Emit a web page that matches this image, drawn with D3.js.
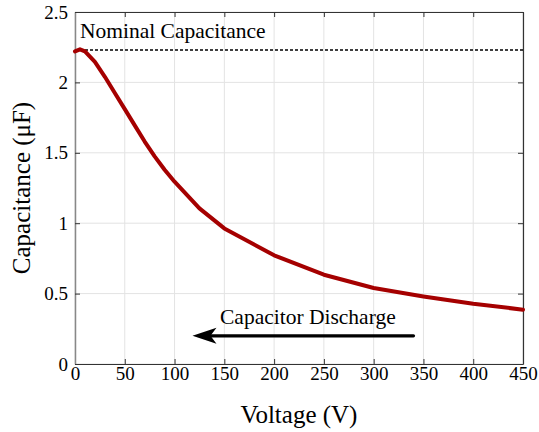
<!DOCTYPE html>
<html><head><meta charset="utf-8">
<script src="https://cdn.jsdelivr.net/npm/d3@7"></script>
<style>body{margin:0;background:#fff}svg{display:block}</style>
</head><body>
<svg id="c" width="539" height="432"></svg>
<script>
const voltage = [0, 5, 10, 20, 30, 40, 50, 60, 70, 80, 90, 100, 125, 150, 200, 250, 300, 350, 400, 450];
const capacitance = [2.22, 2.235, 2.22, 2.145, 2.04, 1.925, 1.81, 1.695, 1.58, 1.475, 1.38, 1.295, 1.105, 0.963, 0.772, 0.634, 0.54, 0.48, 0.428, 0.386];
const xTicks = [0, 50, 100, 150, 200, 250, 300, 350, 400, 450];
const yTicks = [0, 0.5, 1, 1.5, 2, 2.5];
const yTickLabels = ["0", "0.5", "1", "1.5", "2", "2.5"];
const nominal = 2.23;
const arrowFromTo = [340, 118, 0.2];

const svg = d3.select("#c");
const font = "'Liberation Serif','Times New Roman',serif";
const L = 75, R = 523, T = 12, B = 364;
const x = d3.scaleLinear().domain([0, 450]).range([L, R]);
const y = d3.scaleLinear().domain([0, 2.5]).range([B, T]);

// grid
svg.append("g").selectAll("line").data(xTicks).join("line")
  .attr("x1", d => x(d)).attr("x2", d => x(d)).attr("y1", T).attr("y2", B)
  .attr("stroke", "#e3e3e3").attr("stroke-width", 1);
svg.append("g").selectAll("line").data(yTicks).join("line")
  .attr("y1", d => y(d)).attr("y2", d => y(d)).attr("x1", L).attr("x2", R)
  .attr("stroke", "#e3e3e3").attr("stroke-width", 1);

// axes
const xAxB = svg.append("g").attr("transform", `translate(0,${B})`)
  .call(d3.axisBottom(x).tickValues(xTicks).tickSizeInner(-5).tickSizeOuter(0).tickPadding(2));
const xAxT = svg.append("g").attr("transform", `translate(0,${T})`)
  .call(d3.axisTop(x).tickValues(xTicks).tickSizeInner(-5).tickSizeOuter(0).tickFormat(""));
const yAxL = svg.append("g").attr("transform", `translate(${L},0)`)
  .call(d3.axisLeft(y).tickValues(yTicks).tickSizeInner(-5).tickSizeOuter(0).tickPadding(7)
    .tickFormat((d, i) => yTickLabels[i]));
const yAxR = svg.append("g").attr("transform", `translate(${R},0)`)
  .call(d3.axisRight(y).tickValues(yTicks).tickSizeInner(-5).tickSizeOuter(0).tickFormat(""));
[xAxB, xAxT, yAxL, yAxR].forEach(g => {
  g.attr("font-family", font).attr("font-size", 19);
  g.selectAll(".domain").attr("stroke", "#333").attr("stroke-width", 1.2);
  g.selectAll(".tick line").attr("stroke", "#333");
  g.selectAll("text").attr("font-family", font).attr("font-size", 19).attr("fill", "#000");
});
yAxL.select(".domain").attr("stroke", "#888").attr("stroke-width", 1.5);

// nominal line
svg.append("line").attr("x1", x(0)).attr("x2", x(450)).attr("y1", y(nominal)).attr("y2", y(nominal))
  .attr("stroke", "#000").attr("stroke-width", 1.4).attr("stroke-dasharray", "3,2");
svg.append("text").attr("x", x(0) + 5).attr("y", 38).attr("font-family", font).attr("font-size", 21.5)
  .text("Nominal Capacitance");

// curve
const data = voltage.map((v, i) => [v, capacitance[i]]);
svg.append("path").datum(data)
  .attr("d", d3.line().x(d => x(d[0])).y(d => y(d[1])))
  .attr("fill", "none").attr("stroke", "#a50000").attr("stroke-width", 4)
  .attr("stroke-linejoin", "round").attr("stroke-linecap", "round");

// arrow
const ax1 = x(arrowFromTo[0]), ax2 = x(arrowFromTo[1]), ay = y(arrowFromTo[2]);
svg.append("line").attr("x1", ax1).attr("x2", ax2 + 14).attr("y1", ay).attr("y2", ay)
  .attr("stroke", "#000").attr("stroke-width", 3.2).attr("stroke-linecap", "round");
svg.append("path")
  .attr("d", `M${ax2},${ay} L${ax2 + 24},${ay - 8} L${ax2 + 18},${ay} L${ax2 + 24},${ay + 8} Z`)
  .attr("fill", "#000");
svg.append("text").attr("x", 220).attr("y", 324).attr("font-family", font).attr("font-size", 21.5)
  .text("Capacitor Discharge");

// axis titles
svg.append("text").attr("x", (L + R) / 2).attr("y", 423).attr("text-anchor", "middle")
  .attr("font-family", font).attr("font-size", 25).text("Voltage (V)");
svg.append("text").attr("transform", `translate(30,${(T + B) / 2}) rotate(-90)`).attr("text-anchor", "middle")
  .attr("font-family", font).attr("font-size", 25).text("Capacitance (μF)");
</script>
</body></html>
